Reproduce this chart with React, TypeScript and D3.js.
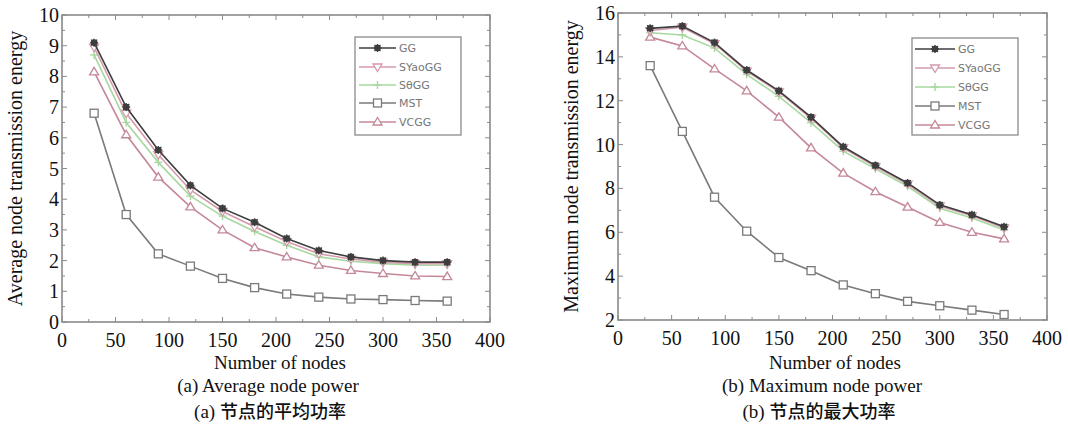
import React from "react";
import * as d3 from "d3";

const nodes = [30, 60, 90, 120, 150, 180, 210, 240, 270, 300, 330, 360];
const seriesNames = ["GG", "SYaoGG", "SθGG", "MST", "VCGG"];

const avgGG = [9.1, 7.0, 5.6, 4.45, 3.7, 3.25, 2.72, 2.33, 2.12, 2.0, 1.95, 1.95];
const avgSYaoGG = [8.95, 6.8, 5.45, 4.3, 3.6, 3.1, 2.62, 2.22, 2.05, 1.95, 1.9, 1.9];
const avgSThetaGG = [8.7, 6.5, 5.2, 4.1, 3.45, 2.95, 2.5, 2.12, 1.98, 1.9, 1.85, 1.85];
const avgMST = [6.8, 3.5, 2.22, 1.82, 1.42, 1.12, 0.91, 0.81, 0.75, 0.73, 0.7, 0.68];
const avgVCGG = [8.15, 6.1, 4.72, 3.75, 3.0, 2.42, 2.12, 1.85, 1.68, 1.58, 1.5, 1.48];

const maxGG = [15.3, 15.4, 14.65, 13.4, 12.45, 11.25, 9.9, 9.05, 8.25, 7.25, 6.8, 6.25];
const maxSYaoGG = [15.2, 15.35, 14.6, 13.35, 12.4, 11.2, 9.85, 9.0, 8.2, 7.2, 6.75, 6.2];
const maxSThetaGG = [15.1, 15.0, 14.4, 13.2, 12.2, 11.0, 9.7, 8.9, 8.1, 7.1, 6.65, 6.1];
const maxMST = [13.6, 10.6, 7.6, 6.05, 4.85, 4.25, 3.6, 3.2, 2.85, 2.65, 2.45, 2.25];
const maxVCGG = [14.9, 14.5, 13.45, 12.45, 11.25, 9.85, 8.7, 7.85, 7.15, 6.45, 6.0, 5.7];

const xTicks = [0, 50, 100, 150, 200, 250, 300, 350, 400];
const avgYTicks = [0, 1, 2, 3, 4, 5, 6, 7, 8, 9, 10];
const maxYTicks = [2, 4, 6, 8, 10, 12, 14, 16];

const colors = ["#3e3e3e", "#d49aac", "#a8d8a0", "#7a7a7a", "#c48898"];
const markerKinds = ["star", "tdown", "cross", "square", "tup"];

function Marker({ kind, x, y, color }: { kind: string; x: number; y: number; color: string }) {
  const s = 4;
  if (kind === "star") {
    return (
      <g stroke={color} strokeWidth={1.4}>
        <circle cx={x} cy={y} r={2.6} fill={color} />
        <line x1={x - s} y1={y} x2={x + s} y2={y} />
        <line x1={x} y1={y - s} x2={x} y2={y + s} />
        <line x1={x - 3} y1={y - 3} x2={x + 3} y2={y + 3} />
        <line x1={x - 3} y1={y + 3} x2={x + 3} y2={y - 3} />
      </g>
    );
  }
  if (kind === "square") {
    return <rect x={x - 4} y={y - 4} width={8} height={8} fill="white" stroke={color} strokeWidth={1.3} />;
  }
  if (kind === "tdown") {
    return <path d={`M${x - 4.5},${y - 3} L${x + 4.5},${y - 3} L${x},${y + 4.5} Z`} fill="white" stroke={color} strokeWidth={1.3} />;
  }
  if (kind === "tup") {
    return <path d={`M${x - 4.5},${y + 3} L${x + 4.5},${y + 3} L${x},${y - 4.5} Z`} fill="white" stroke={color} strokeWidth={1.3} />;
  }
  return (
    <g stroke={color} strokeWidth={1.4}>
      <line x1={x - s} y1={y} x2={x + s} y2={y} />
      <line x1={x} y1={y - s} x2={x} y2={y + s} />
    </g>
  );
}

type Caption = { x: number; prefix: string; text: string; cjk: boolean };

type PanelProps = {
  left: number; right: number; top: number; bottom: number;
  yDomain: [number, number]; yTicks: number[]; yMinorStep: number;
  data: number[][]; yTitle: string; yTitleX: number; yTitleSize: number;
  legend: { x: number; y: number; w: number; h: number; rows: number[]; lx1: number; lx2: number; tx: number };
  captions: Caption[];
};

function Panel(p: PanelProps) {
  const x = d3.scaleLinear().domain([0, 400]).range([p.left, p.right]);
  const y = d3.scaleLinear().domain(p.yDomain).range([p.bottom, p.top]);
  const line = d3.line<number>().x((_, i) => x(nodes[i])).y((v) => y(v));
  const xMinor = d3.range(0, 401, 25);
  const yMinor = d3.range(p.yDomain[0], p.yDomain[1] + 1e-9, p.yMinorStep);
  const frame = "#8a8a8a";
  const tickColor = "#8a8a8a";
  const order = [4, 3, 2, 1, 0];
  return (
    <g>
      <rect x={p.left} y={p.top} width={p.right - p.left} height={p.bottom - p.top} fill="white" stroke={frame} strokeWidth={1.6} />
      {xMinor.map((t) => {
        const len = t % 50 === 0 ? 5 : 3;
        return (
          <g key={"xm" + t} stroke={tickColor} strokeWidth={1}>
            <line x1={x(t)} x2={x(t)} y1={p.bottom} y2={p.bottom - len} />
            <line x1={x(t)} x2={x(t)} y1={p.top} y2={p.top + len} />
          </g>
        );
      })}
      {yMinor.map((t) => {
        const major = p.yTicks.some((v) => Math.abs(v - t) < 1e-6);
        const len = major ? 5 : 3;
        return (
          <g key={"ym" + t} stroke={tickColor} strokeWidth={1}>
            <line x1={p.left} x2={p.left + len} y1={y(t)} y2={y(t)} />
            <line x1={p.right} x2={p.right - len} y1={y(t)} y2={y(t)} />
          </g>
        );
      })}
      {xTicks.map((t) => (
        <text key={"xl" + t} x={x(t)} y={p.bottom + 25} textAnchor="middle" fontFamily="Liberation Serif" fontSize={20} fill="#111">{t}</text>
      ))}
      {p.yTicks.map((t) => (
        <text key={"yl" + t} x={p.left - 3} y={y(t) + 7} textAnchor="end" fontFamily="Liberation Serif" fontSize={20} fill="#111">{t}</text>
      ))}
      <text transform={`translate(${p.yTitleX},${(p.top + p.bottom) / 2}) rotate(-90)`} textAnchor="middle" dy="0.35em" fontFamily="Liberation Serif" fontSize={p.yTitleSize} fill="#111">{p.yTitle}</text>
      {order.map((si) => (
        <g key={"s" + si}>
          <path d={line(p.data[si]) || ""} fill="none" stroke={colors[si]} strokeWidth={1.6} />
          {p.data[si].map((v, i) => (
            <Marker key={i} kind={markerKinds[si]} x={x(nodes[i])} y={y(v)} color={colors[si]} />
          ))}
        </g>
      ))}
      <rect x={p.legend.x} y={p.legend.y} width={p.legend.w} height={p.legend.h} fill="white" stroke={frame} strokeWidth={1.3} />
      {seriesNames.map((n, i) => {
        const ry = p.legend.rows[i];
        return (
          <g key={"lg" + n}>
            <line x1={p.legend.lx1} x2={p.legend.lx2} y1={ry} y2={ry} stroke={colors[i]} strokeWidth={1.4} />
            <Marker kind={markerKinds[i]} x={(p.legend.lx1 + p.legend.lx2) / 2} y={ry} color={colors[i]} />
            <text x={p.legend.tx} y={ry + 4} fontFamily="DejaVu Sans" fontSize={11} fill="#777">{n}</text>
          </g>
        );
      })}
      {p.captions.map((c, i) => (
        <text key={"cap" + i} x={c.x} y={[369, 392, 418][i]} textAnchor="middle" fontFamily="Liberation Serif" fontSize={19} fill="#111">
          {c.prefix}
          {c.cjk ? (
            <tspan fontFamily="Noto Sans CJK SC" fontWeight={500} fontSize={18}>{c.text}</tspan>
          ) : (
            c.text
          )}
        </text>
      ))}
    </g>
  );
}

export default function App() {
  return (
    <svg width={1068} height={427} style={{ position: "absolute", left: 0, top: 0, background: "white" }}>
      <Panel
        left={62} right={490} top={15} bottom={322}
        yDomain={[0, 10]} yTicks={avgYTicks} yMinorStep={0.5}
        data={[avgGG, avgSYaoGG, avgSThetaGG, avgMST, avgVCGG]}
        yTitle="Average node transmission energy" yTitleX={15} yTitleSize={20}
        legend={{ x: 355, y: 37, w: 106, h: 98, rows: [48, 67, 85, 103, 122], lx1: 359, lx2: 396, tx: 399 }}
        captions={[
          { x: 280, prefix: "", text: "Number of nodes", cjk: false },
          { x: 268, prefix: "", text: "(a) Average node power", cjk: false },
          { x: 270, prefix: "(a)  ", text: "节点的平均功率", cjk: true },
        ]}
      />
      <Panel
        left={618} right={1047} top={13} bottom={320}
        yDomain={[2, 16]} yTicks={maxYTicks} yMinorStep={1}
        data={[maxGG, maxSYaoGG, maxSThetaGG, maxMST, maxVCGG]}
        yTitle="Maximum node transmission energy" yTitleX={571} yTitleSize={20}
        legend={{ x: 912, y: 38, w: 106, h: 97, rows: [49, 68, 87, 106, 125], lx1: 915, lx2: 955, tx: 958 }}
        captions={[
          { x: 835, prefix: "", text: "Number of nodes", cjk: false },
          { x: 822, prefix: "", text: "(b) Maximum node power", cjk: false },
          { x: 819, prefix: "(b)  ", text: "节点的最大功率", cjk: true },
        ]}
      />
    </svg>
  );
}
